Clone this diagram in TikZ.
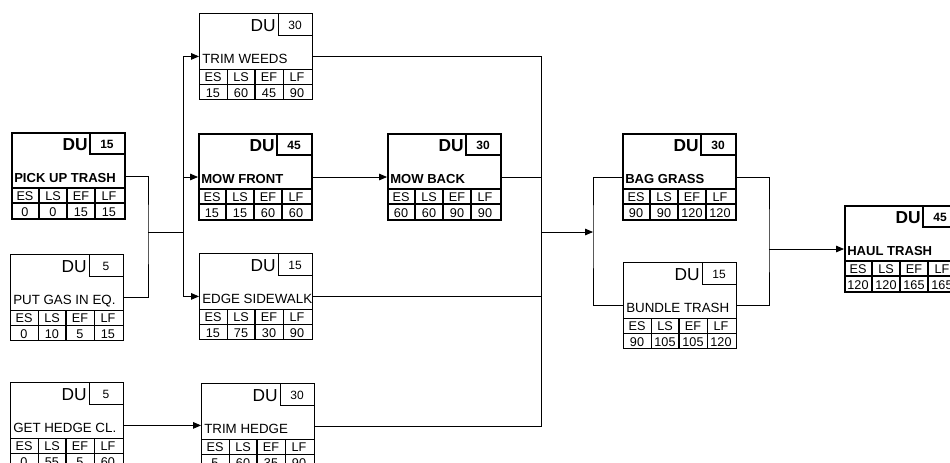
\documentclass[tikz,border=0pt]{standalone}
\usepackage{fontspec}
\setmainfont{Liberation Sans}
\usetikzlibrary{arrows.meta, positioning, calc}

\newcommand{\taskbody}[8]{%
  \draw[line#2] ($(#1.north west)+(79,0)$) |- ($(#1.north east)+(0,22)$);
  \node[duTxt#2, anchor=base east] at ($(#1.north west)+(77,18)$) {DU};
  \node[num#2, anchor=base] at ($(#1.north west)+(96,16)$) {#4};
  \node[ttl#2, anchor=base west] at ($(#1.north west)+(3,50)$) {#3};
  \draw[line#2] ($(#1.north west)+(0,56)$) -- ($(#1.north east)+(0,56)$);
  \draw[line#2] ($(#1.north west)+(0,71)$) -- ($(#1.north east)+(0,71)$);
  \draw[line#2] ($(#1.north west)+(28,56)$) -- ($(#1.south west)+(28,0)$);
  \draw[mid#2] ($(#1.north west)+(56,56)$) -- ($(#1.south west)+(56,0)$);
  \draw[line#2] ($(#1.north west)+(84,56)$) -- ($(#1.south west)+(84,0)$);
  \foreach \hd/\vl [count=\k] in {ES/#5, LS/#6, EF/#7, LF/#8} {
    \node[cell, anchor=base] at ($(#1.north west)+(28*\k-14,68)$) {\hd};
    \node[cell, anchor=base] at ($(#1.north west)+(28*\k-14,84)$) {\vl};
  }
}

\begin{document}
\begin{tikzpicture}[
  x=0.75pt, y=-0.75pt,
  >={Triangle[length=6pt,width=5pt]},
  conn/.style={draw, line width=0.6pt},
  taskB/.style={draw, line width=1.5pt, minimum width=84.75pt, minimum height=64.5pt, anchor=north west, inner sep=0pt},
  taskN/.style={draw, line width=0.6pt, minimum width=84.75pt, minimum height=64.5pt, anchor=north west, inner sep=0pt},
  lineB/.style={line width=1.2pt},
  lineN/.style={line width=0.6pt},
  midB/.style={line width=1.2pt},
  midN/.style={line width=2pt},
  duTxtB/.style={inner sep=0pt, font=\bfseries\fontsize{13}{13}\selectfont},
  duTxtN/.style={inner sep=0pt, font=\fontsize{13}{13}\selectfont},
  numB/.style={inner sep=0pt, font=\bfseries\fontsize{9}{9}\selectfont},
  numN/.style={inner sep=0pt, font=\fontsize{9}{9}\selectfont},
  ttlB/.style={inner sep=0pt, font=\bfseries\fontsize{9.8}{10}\selectfont},
  ttlN/.style={inner sep=0pt, font=\fontsize{10}{10}\selectfont},
  cell/.style={inner sep=0pt, font=\fontsize{9.5}{10}\selectfont}
  ]
  \useasboundingbox (0,0) rectangle (950,462);
  \clip (0,0) rectangle (950,462);
  % activity boxes
  \node[taskB] (pick) at (11,132) {};
  \node[taskN] (gas) at (10,254) {};
  \node[taskN] (hedgecl) at (10,382) {};
  \node[taskN] (weeds) at (199,13) {};
  \node[taskB] (mowf) at (198,133) {};
  \node[taskN] (edge) at (199,253) {};
  \node[taskN] (trimh) at (201,383) {};
  \node[taskB] (mowb) at (387,133) {};
  \node[taskB] (bag) at (622,133) {};
  \node[taskN] (bundle) at (623,262) {};
  \node[taskB] (haul) at (844,205) {};
  \taskbody{pick}{B}{PICK UP TRASH}{15}{0}{0}{15}{15}
  \taskbody{gas}{N}{PUT GAS IN EQ.}{5}{0}{10}{5}{15}
  \taskbody{hedgecl}{N}{GET HEDGE CL.}{5}{0}{55}{5}{60}
  \taskbody{weeds}{N}{TRIM WEEDS}{30}{15}{60}{45}{90}
  \taskbody{mowf}{B}{MOW FRONT}{45}{15}{15}{60}{60}
  \taskbody{edge}{N}{EDGE SIDEWALK}{15}{15}{75}{30}{90}
  \taskbody{trimh}{N}{TRIM HEDGE}{30}{5}{60}{35}{90}
  \taskbody{mowb}{B}{MOW BACK}{30}{60}{60}{90}{90}
  \taskbody{bag}{B}{BAG GRASS}{30}{90}{90}{120}{120}
  \taskbody{bundle}{N}{BUNDLE TRASH}{15}{90}{105}{105}{120}
  \taskbody{haul}{B}{HAUL TRASH}{45}{120}{120}{165}{165}
  % junctions
  \coordinate (j1) at (148,232);
  \coordinate (j2) at (183,232);
  \coordinate (j3) at (541,232);
  \coordinate (j4) at (593,232);
  \coordinate (j5) at (769,240);
  % connectors
  \draw[conn] (pick.east) -| (j1) |- (gas.east);
  \draw[conn] (j1) -- (j2);
  \draw[conn, ->] (j2) |- (weeds.west);
  \draw[conn, ->] (j2) |- (mowf.west);
  \draw[conn, ->] (j2) |- (edge.west);
  \draw[conn, ->] (hedgecl.east) -- (hedgecl.east -| trimh.west);
  \draw[conn, ->] (mowf.east) -- (mowb.west);
  \draw[conn] (weeds.east) -| (j3);
  \draw[conn] (mowb.east) -| (j3);
  \draw[conn] (edge.east) -| (j3);
  \draw[conn] (trimh.east) -| (j3);
  \draw[conn, ->] (j3) -- (j4);
  \draw[conn] (bag.west) -| (j4) |- (bundle.west);
  \draw[conn] (bag.east) -| (j5) |- (bundle.east);
  \draw[conn, ->] (j5 |- haul.west) -- (haul.west);
\end{tikzpicture}
\end{document}
